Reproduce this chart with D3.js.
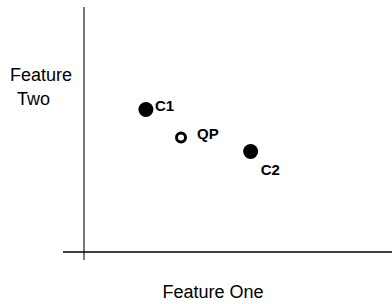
<!DOCTYPE html>
<html>
<head>
<meta charset="utf-8">
<script src="https://cdn.jsdelivr.net/npm/d3@7"></script>
<style>
  body { margin: 0; background: #fff; }
  svg text { font-family: "Liberation Sans", Arial, sans-serif; }
</style>
</head>
<body>
<div id="chart"></div>
<script>
const names = ["C1", "QP", "C2"];
const featureOne = [2.01, 3.15, 5.41];
const featureTwo = [5.84, 4.69, 4.12];
const hollow = [false, true, false];

const width = 392;
const height = 304;

const svg = d3.select("#chart")
  .append("svg")
  .attr("width", width)
  .attr("height", height);

const x = d3.scaleLinear().domain([0, 10]).range([84, 392]);
const y = d3.scaleLinear().domain([0, 10]).range([252, 8]);

// AXES (plain lines, no ticks)
svg.append("line")
  .attr("x1", x(0)).attr("x2", x(0))
  .attr("y1", y(10) - 1).attr("y2", y(0) + 8)
  .attr("stroke", "#333").attr("stroke-width", 1.3);

svg.append("line")
  .attr("x1", x(0) - 21).attr("x2", x(10))
  .attr("y1", y(0)).attr("y2", y(0))
  .attr("stroke", "#000").attr("stroke-width", 1.3);

const pts = names.map((n, i) => ({ name: n, fx: featureOne[i], fy: featureTwo[i], hollow: hollow[i] }));

// POINTS
svg.selectAll("circle.pt")
  .data(pts)
  .enter()
  .append("circle")
  .attr("class", "pt")
  .attr("cx", d => x(d.fx))
  .attr("cy", d => y(d.fy))
  .attr("r", d => d.hollow ? 4.5 : 7.5)
  .attr("fill", d => d.hollow ? "#fff" : "#000")
  .attr("stroke", "#000")
  .attr("stroke-width", d => d.hollow ? 3 : 0);

// LABELS
const labelOffset = { C1: [9, 1], QP: [16, 1], C2: [10, 23.5] };
svg.selectAll("text.lbl")
  .data(pts)
  .enter()
  .append("text")
  .attr("class", "lbl")
  .attr("x", d => x(d.fx) + labelOffset[d.name][0])
  .attr("y", d => y(d.fy) + labelOffset[d.name][1])
  .style("font-size", "15px")
  .style("font-weight", "bold")
  .text(d => d.name);

// AXIS TITLES
svg.append("text")
  .attr("x", 213)
  .attr("y", 298)
  .attr("text-anchor", "middle")
  .style("font-size", "18px")
  .text("Feature One");

const yTitle = svg.append("text")
  .attr("y", 81)
  .style("font-size", "18px");
yTitle.append("tspan").attr("x", 10).text("Feature");
yTitle.append("tspan").attr("x", 17).attr("dy", 24).text("Two");
</script>
</body>
</html>
